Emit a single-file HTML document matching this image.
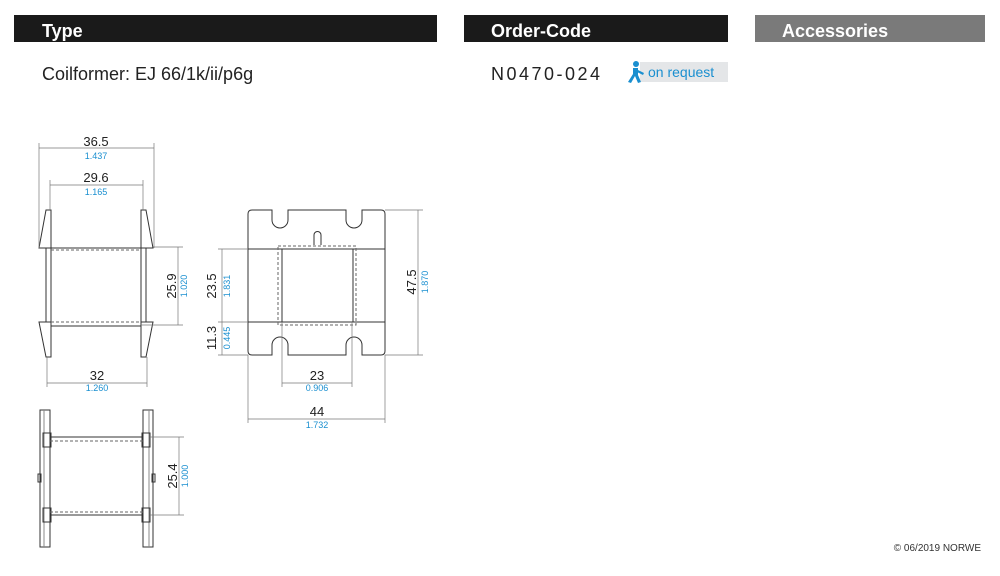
<!DOCTYPE html>
<html><head><meta charset="utf-8"><style>
body{margin:0;background:#fff;width:1000px;height:571px;overflow:hidden;font-family:"Liberation Sans",Arial,sans-serif;}
svg text{font-family:"Liberation Sans",Arial,sans-serif;}
</style></head><body>
<svg width="1000" height="571" viewBox="0 0 1000 571" xmlns="http://www.w3.org/2000/svg">
<rect x="14" y="15" width="423" height="27" fill="#1a1a1a"/>
<text x="42" y="37" font-size="18" font-weight="bold" fill="#fff">Type</text>
<rect x="464" y="15" width="264" height="27" fill="#1a1a1a"/>
<text x="491" y="37" font-size="18" font-weight="bold" fill="#fff">Order-Code</text>
<rect x="755" y="15" width="230" height="27" fill="#7a7a7a"/>
<text x="782" y="37" font-size="18" font-weight="bold" fill="#fff">Accessories</text>
<text x="42" y="80" font-size="18" fill="#222">Coilformer:  EJ 66/1k/ii/p6g</text>
<text x="491" y="80" font-size="18" fill="#222" letter-spacing="2.5">N0470-024</text>
<rect x="640" y="62" width="88" height="20" fill="#e4e6e8"/>
<g fill="#1a8fd0"><circle cx="636" cy="64" r="3"/><path d="M633 68 L638 68 L638 75 L641 82 L638 83 L635 76 L631 83 L628 82 L633 74 Z"/><path d="M638 70 L644 73 L643 75 L637 72Z"/></g>
<text x="648" y="77" font-size="14" fill="#1a8fd0">on request</text>
<g fill="none" stroke="#333" stroke-width="1">
<path d="M46 210 L51 210 L51 248 L39 248 Z"/>
<path d="M39 322 L51 322 L51 357 L46 357 Z"/>
<path d="M146 210 L141 210 L141 248 L153 248 Z"/>
<path d="M153 322 L141 322 L141 357 L146 357 Z"/>
<line x1="46" y1="248" x2="46" y2="322"/><line x1="51" y1="248" x2="51" y2="322"/>
<line x1="146" y1="248" x2="146" y2="322"/><line x1="141" y1="248" x2="141" y2="322"/>
<line x1="51" y1="248" x2="141" y2="248"/><line x1="51" y1="326" x2="141" y2="326"/>
<line x1="51" y1="322" x2="141" y2="322" stroke-dasharray="3,2" stroke="#666"/>
<line x1="51" y1="250" x2="141" y2="250" stroke-dasharray="3,2" stroke="#666"/>
<path d="M252 210 L272 210 L272 220 A8 8 0 0 0 288 220 L288 210 L346 210 L346 220 A8 8 0 0 0 362 220 L362 210 L381 210 Q385 210 385 214 L385 351 Q385 355 381 355 L362 355 L362 345 A8 8 0 0 0 346 345 L346 355 L288 355 L288 345 A8 8 0 0 0 272 345 L272 355 L252 355 Q248 355 248 351 L248 214 Q248 210 252 210 Z"/>
<path d="M314 245 L314 235 A3.5 3.5 0 0 1 321 235 L321 245"/>
<line x1="248" y1="249" x2="385" y2="249"/><line x1="248" y1="322" x2="385" y2="322"/>
<rect x="282" y="249" width="71" height="73"/>
<rect x="278" y="246" width="78" height="79" stroke-dasharray="3,2" stroke="#666"/>
<rect x="40" y="410" width="10" height="137"/><rect x="143" y="410" width="10" height="137"/>
<line x1="44" y1="410" x2="44" y2="547" stroke="#888"/><line x1="149" y1="410" x2="149" y2="547" stroke="#888"/>
<rect x="43" y="433" width="8" height="14"/><rect x="43" y="508" width="8" height="14"/>
<rect x="142" y="433" width="8" height="14"/><rect x="142" y="508" width="8" height="14"/>
<rect x="38" y="474" width="3" height="8"/><rect x="152" y="474" width="3" height="8"/>
<line x1="50" y1="437" x2="143" y2="437"/><line x1="50" y1="515" x2="143" y2="515"/>
<line x1="50" y1="441" x2="143" y2="441" stroke-dasharray="3,2" stroke="#666"/>
<line x1="50" y1="512" x2="143" y2="512" stroke-dasharray="3,2" stroke="#666"/>
</g>
<g stroke="#777" stroke-width="0.7" fill="none">
<line x1="39" y1="148" x2="154" y2="148"/><line x1="39" y1="143" x2="39" y2="248"/><line x1="154" y1="143" x2="154" y2="248"/>
<line x1="50" y1="185" x2="143" y2="185"/><line x1="50" y1="180" x2="50" y2="210"/><line x1="143" y1="180" x2="143" y2="210"/>
<line x1="47" y1="383" x2="147" y2="383"/><line x1="47" y1="357" x2="47" y2="387"/><line x1="147" y1="357" x2="147" y2="387"/>
<line x1="178" y1="247" x2="178" y2="325"/><line x1="153" y1="247" x2="183" y2="247"/><line x1="141" y1="325" x2="183" y2="325"/>
<line x1="418" y1="210" x2="418" y2="355"/><line x1="385" y1="210" x2="423" y2="210"/><line x1="385" y1="355" x2="423" y2="355"/>
<line x1="222" y1="249" x2="222" y2="355"/><line x1="218" y1="249" x2="248" y2="249"/><line x1="218" y1="322" x2="248" y2="322"/><line x1="218" y1="355" x2="248" y2="355"/>
<line x1="282" y1="383" x2="352" y2="383"/><line x1="282" y1="322" x2="282" y2="387"/><line x1="352" y1="322" x2="352" y2="387"/>
<line x1="248" y1="419" x2="385" y2="419"/><line x1="248" y1="355" x2="248" y2="423"/><line x1="385" y1="355" x2="385" y2="423"/>
<line x1="179" y1="437" x2="179" y2="515"/><line x1="150" y1="437" x2="184" y2="437"/><line x1="150" y1="515" x2="184" y2="515"/>
</g>
<g font-size="13" fill="#222" text-anchor="middle">
<text x="96" y="146">36.5</text><text x="96" y="182">29.6</text><text x="97" y="380">32</text>
<text x="317" y="380">23</text><text x="317" y="416">44</text>
<text transform="translate(176,286) rotate(-90)">25.9</text>
<text transform="translate(216,286) rotate(-90)">23.5</text>
<text transform="translate(216,338) rotate(-90)">11.3</text>
<text transform="translate(416,282) rotate(-90)">47.5</text>
<text transform="translate(177,476) rotate(-90)">25.4</text>
</g>
<g font-size="9" fill="#1a8fd0" text-anchor="middle">
<text x="96" y="159">1.437</text><text x="96" y="195">1.165</text><text x="97" y="391">1.260</text>
<text x="317" y="391">0.906</text><text x="317" y="428">1.732</text>
<text transform="translate(187,286) rotate(-90)">1.020</text>
<text transform="translate(230,286) rotate(-90)">1.831</text>
<text transform="translate(230,338) rotate(-90)">0.445</text>
<text transform="translate(428,282) rotate(-90)">1.870</text>
<text transform="translate(188,476) rotate(-90)">1.000</text>
</g>
<text x="981" y="551" font-size="10" fill="#333" text-anchor="end">© 06/2019 NORWE</text>
</svg>
</body></html>
